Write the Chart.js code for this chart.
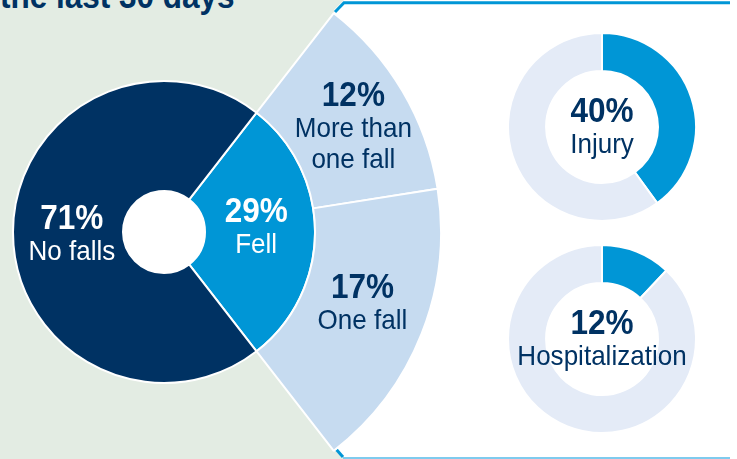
<!DOCTYPE html>
<html>
<head>
<meta charset="utf-8">
<script src="https://cdn.jsdelivr.net/npm/chart.js@4.4.0/dist/chart.umd.min.js"></script>
<style>
  html, body { margin: 0; padding: 0; }
  body {
    width: 737px; height: 459px; overflow: hidden; position: relative;
    background: #e3ece3; font-family: 'Liberation Sans', Arial, sans-serif;
  }
  #panel {
    position: absolute; left: 334px; top: 0; width: 403px; height: 459px; background: #fff;
    clip-path: polygon(10px 0, 100% 0, 100% 100%, 10px 100%, 0 449px, 0 10px);
  }
  #frame { position: absolute; left: 0; top: 0; }
  #title {
    position: absolute; left: 0; top: -22px; color: #003263; white-space: nowrap;
    font: bold 35px/35px 'Liberation Sans', Arial, sans-serif;
    transform: scaleX(0.9); transform-origin: 0 0;
  }
  .box { position: absolute; }
  #fallsBox { left: -114px; top: -46px; width: 556px; height: 556px; }
  #injuryBox { left: 507px; top: 32px; width: 190px; height: 190px; }
  #hospBox { left: 507px; top: 244px; width: 190px; height: 190px; }
</style>
</head>
<body>
<div id="title">the last 30 days</div>
<div id="panel"></div>
<svg id="frame" width="737" height="459">
  <polyline points="335,12 344,2.8 730,2.8" fill="none" stroke="#0096d6" stroke-width="3" />
  <polyline points="335,448 343,457" fill="none" stroke="#0096d6" stroke-width="3" />
  <line x1="343" y1="458" x2="730" y2="458" stroke="#7fcbee" stroke-width="2" />
</svg>
<div class="box" id="fallsBox"><canvas id="falls-chart"></canvas></div>
<div class="box" id="injuryBox"><canvas id="injury-chart"></canvas></div>
<div class="box" id="hospBox"><canvas id="hosp-chart"></canvas></div>

<script>
// dados (percentuais)
const fallLabels = ['Fell', 'No falls'];
const fallValues = [29, 71];
const fellLabels = [['More than', 'one fall'], 'One fall'];
const fellValues = [12, 17];
const outcomeLabels = ['Injury', 'Hospitalization'];
const outcomeValues = [40, 12];

const NAVY = '#003263';
const BLUE = '#0096d6';
const LIGHT = '#c6dbf0';
const TRACK = '#e4ebf7';

// desenha um bloco "xx%" + rótulo, centrado em (x, yc)
function drawBlock(ctx, x, yc, value, label, color) {
  const lines = Array.isArray(label) ? label : [label];
  const total = 25 + 31 * lines.length;
  let y = yc - total / 2 + 25;
  ctx.save();
  ctx.fillStyle = color;
  ctx.textAlign = 'center';
  ctx.textBaseline = 'alphabetic';
  ctx.save();
  ctx.translate(x, y);
  ctx.scale(0.9, 1);
  ctx.font = "bold 35px 'Liberation Sans', Arial, sans-serif";
  ctx.fillText(value + '%', 0, 0);
  ctx.restore();
  lines.forEach(t => {
    y += 31;
    ctx.save();
    ctx.translate(x, y);
    ctx.scale(0.93, 1);
    ctx.font = "28px 'Liberation Sans', Arial, sans-serif";
    ctx.fillText(t, 0, 0);
    ctx.restore();
  });
  ctx.restore();
}

// rótulos dentro das fatias (itens ficam no closure, fora do resolver de opções)
function arcLabels(items, labelSets) {
  return {
    id: 'arcLabels',
    afterDatasetsDraw(chart) {
      const ctx = chart.ctx;
      items.forEach(item => {
        const ds = chart.data.datasets[item.dataset];
        const arc = chart.getDatasetMeta(item.dataset).data[item.index];
        const p = arc.getProps(['x', 'y', 'startAngle', 'endAngle', 'innerRadius', 'outerRadius'], true);
        let x = p.x, y = p.y;
        if (item.at) {
          const a = (p.startAngle + p.endAngle) / 2;
          const r = p.innerRadius + (p.outerRadius - p.innerRadius) * item.at;
          x += Math.cos(a) * r;
          y += Math.sin(a) * r;
        }
        drawBlock(ctx, x + (item.dx || 0), y + (item.dy || 0),
          ds.data[item.index], labelSets[item.dataset][item.index], item.color);
      });
    }
  };
}

// furo branco no centro da pizza principal
const whiteHole = {
  id: 'whiteHole',
  beforeDatasetsDraw(chart) {
    const meta = chart.getDatasetMeta(1);
    if (!meta.data.length) return;
    const arc = meta.data[0];
    const ctx = chart.ctx;
    ctx.save();
    ctx.fillStyle = '#fff';
    ctx.beginPath();
    ctx.arc(arc.x, arc.y, arc.innerRadius, 0, Math.PI * 2);
    ctx.fill();
    ctx.restore();
  }
};

const fellAngle = fallValues[0] / 100 * 360;
const restValue = 100 - fellValues.reduce((a, b) => a + b, 0);

new Chart(document.getElementById('falls-chart').getContext('2d'), {
  type: 'doughnut',
  data: {
    labels: ['More than one fall', 'One fall', ''],
    datasets: [
      {
        data: [...fellValues, restValue],
        backgroundColor: [LIGHT, LIGHT, 'rgba(0,0,0,0)'],
        borderColor: '#fff',
        borderWidth: [2, 2, 0],
        weight: 126
      },
      {
        data: fallValues,
        backgroundColor: [BLUE, NAVY],
        borderColor: '#fff',
        borderWidth: 2,
        weight: 110
      }
    ]
  },
  options: {
    responsive: true,
    maintainAspectRatio: false,
    animation: false,
    events: [],
    cutout: 41,
    rotation: 90 - fellAngle / 2,
    plugins: { legend: { display: false }, tooltip: { enabled: false } }
  },
  plugins: [whiteHole, arcLabels([
    { dataset: 1, index: 0, at: 0.465, dy: -7, color: '#fff' },
    { dataset: 1, index: 1, at: 0.465, dy: 0, color: '#fff' },
    { dataset: 0, index: 0, at: 0.52, dx: 3, dy: 3, color: NAVY },
    { dataset: 0, index: 1, at: 0.47, dx: 3, dy: -8, color: NAVY }
  ], [fellLabels, fallLabels])]
});

// donuts de desfecho (lesão / hospitalização)
function outcomeDonut(id, i) {
  new Chart(document.getElementById(id).getContext('2d'), {
    type: 'doughnut',
    data: {
      labels: [outcomeLabels[i], ''],
      datasets: [{
        data: [outcomeValues[i], 100 - outcomeValues[i]],
        backgroundColor: [BLUE, TRACK],
        borderColor: '#fff',
        borderWidth: 2
      }]
    },
    options: {
      responsive: true,
      maintainAspectRatio: false,
      animation: false,
      events: [],
      cutout: '59.5%',
      plugins: { legend: { display: false }, tooltip: { enabled: false } }
    },
    plugins: [arcLabels([{ dataset: 0, index: 0, dy: -2, color: NAVY }], [[outcomeLabels[i]]])]
  });
}
outcomeDonut('injury-chart', 0);
outcomeDonut('hosp-chart', 1);
</script>
</body>
</html>
